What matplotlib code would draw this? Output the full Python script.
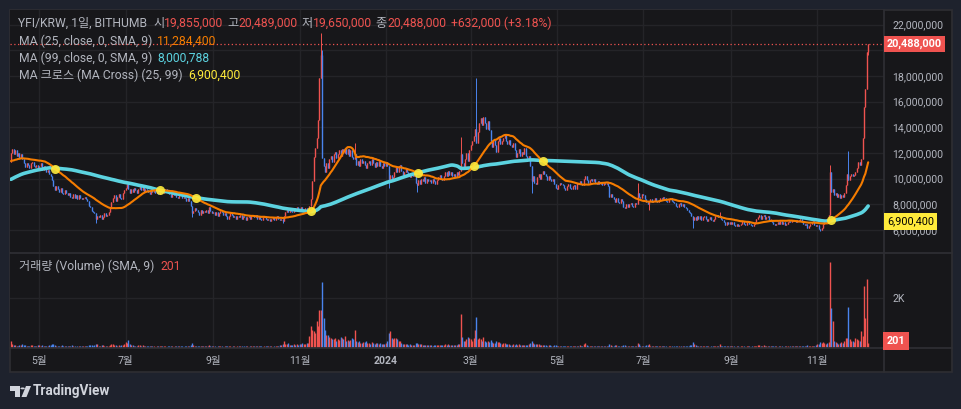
import numpy as np
import pandas as pd
import matplotlib
matplotlib.use('Agg')
import matplotlib.pyplot as plt
from matplotlib import transforms
from matplotlib.patches import Rectangle, Polygon, Circle
from matplotlib.lines import Line2D

plt.rcParams['font.family'] = ['Roboto', 'Noto Sans CJK KR', 'DejaVu Sans']

# daily closes before the visible window (for the moving averages), million KRW
pre_close = [
    # 2023-01-03 .. 01-31
    6.4, 6.5, 6.4, 6.6, 6.7, 6.8, 7.1, 7.3, 7.4, 7.8, 8.1, 8.4, 8.2, 8.4, 8.3,
    8.1, 8.3, 8.5, 8.7, 8.6, 8.8, 8.7, 8.9, 8.8, 9.0, 9.1, 9.0, 9.2, 9.1,
    # Feb
    10.4, 10.6, 10.5, 10.4, 10.3, 10.1, 10.3, 10.0, 9.8, 9.9, 10.0, 10.1, 9.9, 10.3,
    10.8, 11.0, 10.9, 11.1, 11.0, 11.2, 10.9, 10.7, 10.8, 10.5, 10.4, 10.6, 10.5, 10.3,
    # Mar
    10.5, 10.3, 9.9, 10.0, 10.1, 9.9, 9.7, 9.5, 9.3, 9.5, 10.0, 10.6, 10.7, 11.0, 10.8,
    11.1, 11.4, 11.3, 11.5, 11.1, 11.3, 11.0, 11.2, 11.1, 11.3, 11.4, 11.1, 11.3, 11.6,
    11.5, 11.7,
    # Apr 1-10
    11.6, 11.4, 11.2, 11.6, 11.4, 11.3, 11.2, 11.4, 11.5, 11.3,
]

start_date = '2023-04-11'

# daily closes, million KRW
close = [
    # 2023-04-11 .. 04-30
    12.0, 12.3, 11.9, 12.2, 11.8, 12.0, 11.6, 11.9, 11.5, 11.2,
    10.9, 11.2, 11.1, 10.8, 11.2, 11.3, 11.0, 10.9, 11.1, 10.8,
    # May
    11.0, 11.2, 10.7, 11.0, 10.8, 10.5, 10.7, 10.4, 10.2, 9.9, 9.4, 9.1, 9.4, 9.2, 9.0,
    9.3, 8.9, 8.8, 9.1, 8.9, 8.7, 8.9, 8.6, 8.5, 8.8, 8.5, 8.7, 8.4, 8.7, 8.5, 8.4,
    # Jun
    8.5, 8.6, 8.4, 8.3, 7.9, 7.8, 7.5, 7.4, 7.3, 6.9, 7.1, 7.0, 7.2, 6.9, 7.0,
    7.3, 7.1, 7.2, 7.4, 7.7, 8.2, 8.5, 8.7, 8.3, 8.6, 8.8, 8.5, 8.4, 8.9, 9.1,
    # Jul
    9.3, 9.6, 9.2, 8.9, 9.2, 9.0, 9.3, 9.1, 8.9, 9.2, 9.4, 9.1, 9.5, 9.0, 9.2,
    9.1, 9.0, 8.8, 9.1, 9.0, 9.2, 8.9, 9.0, 8.8, 9.0, 9.1, 8.9, 9.1, 9.2, 9.0, 8.9,
    # Aug
    8.8, 8.6, 8.9, 8.7, 8.8, 8.6, 8.5, 8.8, 8.7, 8.5, 8.6, 8.5, 8.3, 8.5, 8.3,
    7.9, 7.3, 7.5, 7.7, 7.6, 7.4, 7.2, 7.6, 7.3, 7.5, 7.4, 7.6, 7.3, 7.8, 7.5, 7.3,
    # Sep
    7.4, 7.2, 7.4, 7.1, 7.3, 7.5, 7.4, 7.2, 7.3, 7.1, 6.9, 7.1, 7.3, 7.2, 7.0,
    7.1, 6.9, 7.1, 7.0, 7.2, 6.9, 7.1, 7.0, 6.8, 7.0, 7.1, 6.9, 7.1, 7.2, 7.0,
    # Oct
    7.2, 6.9, 7.1, 6.9, 6.8, 7.0, 7.1, 6.9, 6.8, 6.9, 6.7, 6.9, 7.0, 6.8, 7.0,
    7.1, 6.9, 6.8, 6.9, 6.7, 7.1, 7.4, 7.6, 7.4, 7.7, 7.5, 7.4, 7.7, 7.5, 7.8, 7.6,
    # Nov
    7.5, 7.8, 7.5, 7.6, 7.7, 7.4, 7.6, 7.9, 8.4, 9.8, 11.7, 12.4, 13.2, 14.6, 17.8,
    19.6, 11.6, 11.0, 10.5, 11.2, 10.8, 11.5, 11.8, 11.3, 11.9, 12.1, 11.6, 11.9, 12.2, 11.8,
    # Dec
    12.3, 12.0, 12.4, 11.9, 12.3, 11.8, 12.2, 11.7, 11.5, 11.9, 11.1, 11.4, 11.0, 11.5, 11.2,
    11.4, 11.1, 10.8, 11.2, 11.4, 11.1, 11.5, 11.2, 10.9, 11.3, 11.0, 11.4, 11.0, 10.8, 11.2, 11.0,
    # 2024 Jan
    11.3, 11.0, 9.9, 10.3, 9.8, 10.1, 10.5, 10.9, 10.5, 11.0, 11.1, 10.6, 10.3, 10.5, 10.8,
    10.5, 10.3, 10.1, 10.4, 10.2, 10.3, 9.7, 9.5, 9.9, 9.6, 10.0, 9.8, 10.1, 9.7, 10.0, 9.8,
    # Feb
    9.9, 9.7, 10.0, 9.8, 9.6, 9.9, 10.1, 10.3, 10.0, 9.9, 10.2, 10.5, 10.2, 10.6, 10.3,
    10.5, 10.2, 10.4, 10.1, 10.5, 10.3, 10.6, 11.9, 11.2, 10.9, 11.5, 12.0, 11.4, 12.2,
    # Mar
    12.6, 12.9, 13.3, 13.9, 12.8, 13.6, 14.3, 14.7, 14.2, 14.8, 14.3, 13.9, 14.5, 13.8, 12.9,
    12.5, 13.0, 12.6, 12.1, 12.9, 13.2, 12.7, 12.9, 13.2, 13.4, 12.9, 12.7, 13.0, 12.6, 12.5, 12.8,
    # Apr
    12.2, 11.7, 12.0, 12.3, 11.8, 12.1, 11.9, 12.4, 11.8, 11.6, 11.8, 11.0, 9.8, 10.2, 9.7,
    9.6, 10.1, 10.4, 10.0, 10.4, 10.6, 10.4, 10.2, 9.9, 10.2, 10.0, 9.8, 10.0, 9.6, 9.3,
    # May
    9.2, 9.5, 9.7, 9.6, 9.5, 9.3, 9.1, 9.4, 9.6, 9.3, 9.2, 9.4, 9.5, 9.2, 9.7,
    9.6, 9.8, 9.6, 9.5, 10.0, 10.2, 9.9, 9.7, 9.9, 10.0, 9.8, 10.0, 9.7, 9.6, 9.8, 9.6,
    # Jun
    9.7, 9.5, 9.7, 9.6, 9.7, 9.4, 8.6, 8.8, 8.6, 8.4, 8.2, 8.5, 8.2, 8.1, 8.4,
    8.3, 7.8, 7.7, 8.0, 7.8, 8.0, 8.1, 7.9, 7.8, 8.1, 8.0, 8.9, 8.6, 8.5, 8.8,
    # Jul
    8.7, 8.4, 8.2, 8.0, 8.3, 8.4, 8.2, 8.3, 8.5, 8.3, 8.2, 8.3, 8.5, 8.4, 8.6,
    8.5, 8.3, 8.2, 8.4, 8.5, 8.3, 8.2, 8.1, 7.9, 7.8, 8.0, 8.1, 7.9, 8.0, 7.8, 7.7,
    # Aug
    7.6, 7.4, 7.3, 7.1, 6.8, 7.0, 6.8, 7.1, 6.9, 7.1, 6.8, 7.0, 7.1, 6.9, 6.7,
    6.9, 7.0, 6.8, 6.7, 6.9, 7.1, 7.2, 7.0, 7.1, 6.9, 6.8, 6.6, 6.4, 6.6, 6.5, 6.6,
    # Sep
    6.5, 6.6, 6.4, 6.3, 6.5, 6.3, 6.4, 6.5, 6.7, 6.5, 6.4, 6.6, 6.7, 6.5, 6.4,
    6.3, 6.5, 6.6, 6.9, 7.0, 7.2, 6.9, 7.1, 7.2, 6.9, 7.0, 7.1, 6.8, 6.8, 6.6,
    # Oct
    6.5, 6.4, 6.5, 6.6, 6.5, 6.7, 6.5, 6.6, 6.4, 6.5, 6.6, 6.7, 6.6, 6.8, 6.7,
    6.8, 6.6, 6.8, 6.7, 6.9, 6.6, 6.5, 6.4, 6.5, 6.2, 6.3, 6.5, 6.6, 6.7, 6.4, 6.3,
    # Nov
    6.4, 6.1, 6.0, 6.2, 6.5, 6.7, 6.9, 6.8, 7.2, 10.5, 9.0, 9.2, 8.7, 8.9, 8.6,
    8.8, 8.5, 8.7, 8.6, 8.9, 9.5, 10.4, 9.9, 10.2, 10.4, 10.2, 10.3, 10.5, 10.8, 11.3,
    # Dec 1-7
    11.1, 11.5, 13.2, 15.6, 17.0, 19.856, 20.488,
]

# long wicks visible on the chart, million KRW
wick_high = {
    '2023-07-03': 9.7, '2023-11-16': 21.3, '2023-11-17': 20.0, '2023-12-10': 12.8,
    '2024-02-23': 13.25, '2024-03-05': 17.8, '2024-06-27': 9.65, '2024-08-24': 7.4,
    '2024-11-10': 11.1, '2024-11-23': 12.15, '2024-12-07': 20.489,
}
wick_low = {
    '2023-06-10': 6.55, '2023-08-17': 7.0, '2023-10-20': 6.55, '2024-01-03': 9.3,
    '2024-01-23': 8.95, '2024-04-13': 8.9, '2024-07-05': 7.55, '2024-08-05': 6.2,
    '2024-11-03': 5.95, '2024-12-07': 19.65,
}

# daily volume (YFI)
volume = [
    # 2023 Apr 11-30
    270, 150, 120, 140, 90, 80, 130, 110, 150, 120, 140, 90, 80, 100, 110, 130, 90, 80, 100, 120,
    # May
    110, 90, 120, 100, 80, 70, 90, 130, 110, 150, 180, 120, 90, 80, 100, 90, 110, 80, 70, 90,
    80, 100, 90, 110, 80, 70, 60, 80, 90, 100, 80,
    # Jun
    90, 80, 70, 100, 130, 110, 120, 100, 110, 180, 150, 100, 90, 110, 120, 90, 80, 70, 100, 120,
    180, 150, 130, 110, 100, 120, 90, 110, 130, 150,
    # Jul
    250, 200, 330, 150, 120, 130, 100, 90, 80, 110, 120, 100, 130, 90, 80, 70, 90, 80, 100, 90,
    70, 60, 80, 90, 70, 80, 90, 100, 70, 60, 80,
    # Aug
    80, 90, 70, 60, 70, 80, 90, 70, 80, 90, 60, 70, 80, 70, 90, 120, 200, 130, 100, 90,
    80, 90, 100, 80, 70, 80, 90, 70, 110, 90, 80,
    # Sep
    70, 80, 60, 70, 80, 90, 70, 60, 80, 70, 90, 80, 70, 60, 70, 80, 60, 70, 80, 90,
    70, 60, 70, 80, 70, 60, 70, 80, 90, 70,
    # Oct
    80, 70, 90, 80, 70, 60, 70, 80, 90, 70, 80, 70, 60, 70, 80, 90, 100, 110, 120, 150,
    300, 180, 150, 200, 140, 120, 110, 150, 130, 160, 140,
    # Nov
    180, 160, 200, 150, 170, 190, 210, 490, 890, 730, 670, 600, 1070, 900, 1510, 1530, 2630, 1200, 730, 530,
    530, 450, 400, 380, 350, 420, 300, 380, 330, 450,
    # Dec
    400, 350, 480, 300, 330, 280, 320, 400, 350, 730, 300, 250, 280, 220, 200, 260, 240, 300, 220, 200,
    180, 240, 200, 170, 190, 220, 180, 200, 170, 150, 180,
    # 2024 Jan
    200, 280, 600, 670, 400, 350, 420, 400, 380, 300, 280, 200, 180, 150, 170, 160, 140, 150, 130, 120,
    140, 200, 220, 180, 160, 150, 140, 130, 120, 140, 130,
    # Feb
    120, 110, 100, 120, 130, 110, 120, 140, 130, 110, 120, 150, 140, 160, 130, 120, 110, 130, 120, 140,
    150, 180, 1380, 430, 300, 270, 350, 430, 400,
    # Mar
    350, 300, 400, 730, 1230, 380, 420, 350, 300, 430, 280, 250, 300, 260, 320, 240, 200, 220, 280, 250,
    230, 200, 180, 190, 210, 160, 150, 180, 140, 130, 150,
    # Apr
    140, 150, 130, 160, 120, 110, 130, 140, 120, 130, 150, 200, 300, 220, 180, 170, 160, 150, 140, 130,
    120, 110, 120, 100, 110, 120, 100, 90, 110, 120,
    # May
    100, 90, 80, 100, 90, 80, 70, 80, 90, 100, 80, 70, 80, 90, 100, 90, 110, 80, 90, 150,
    200, 120, 100, 90, 80, 90, 100, 80, 70, 80, 90,
    # Jun
    80, 70, 80, 90, 80, 100, 150, 110, 90, 100, 130, 110, 100, 90, 80, 90, 120, 130, 100, 90,
    80, 70, 80, 90, 70, 80, 200, 150, 100, 90,
    # Jul
    100, 90, 120, 110, 180, 100, 90, 80, 70, 80, 90, 80, 70, 80, 90, 80, 70, 60, 70, 80,
    70, 60, 70, 80, 90, 70, 60, 70, 80, 70, 80,
    # Aug
    90, 100, 110, 120, 230, 150, 110, 100, 90, 80, 70, 80, 90, 70, 80, 70, 60, 70, 80, 70,
    90, 100, 80, 150, 90, 80, 90, 100, 80, 70, 80,
    # Sep
    70, 80, 70, 60, 70, 80, 60, 70, 80, 70, 60, 70, 80, 70, 60, 70, 80, 70, 100, 110,
    120, 90, 100, 110, 90, 80, 90, 80, 70, 80,
    # Oct
    70, 80, 70, 60, 70, 80, 70, 60, 70, 80, 70, 60, 70, 80, 90, 80, 70, 80, 70, 90,
    80, 70, 80, 90, 120, 100, 80, 90, 100, 90, 110,
    # Nov
    150, 180, 250, 200, 250, 220, 180, 200, 260, 3450, 1600, 1100, 300, 250, 200, 180, 220, 250, 200, 300,
    400, 420, 1650, 350, 280, 300, 250, 400, 350, 330,
    # Dec 1-7
    300, 700, 500, 2500, 1200, 2750, 201,
]

price_ticks = [6, 8, 10, 12, 14, 16, 18, 20, 22]
header_parts = [('YFI/KRW, 1일, BITHUMB', 'gray', 6), ('시', 'gray', 0), ('19,855,000', 'red', 4),
                ('고', 'gray', 0), ('20,489,000', 'red', 4), ('저', 'gray', 0), ('19,650,000', 'red', 4),
                ('종', 'gray', 0), ('20,488,000', 'red', 5), ('+632,000 (+3.18%)', 'red', 0)]

# ---------------------------------------------------------------- styling
OUTER = '#1e222d'
PANE = '#17171a'
GRID = '#242428'
SEP = '#2e2e33'
TXT = '#b2b5be'
UP = '#ef5350'
DOWN = '#4a84ee'
C_MA25 = '#f57c00'
C_MA99 = '#5cd3e0'
C_CROSS = '#ffeb3b'
colors = {'gray': TXT, 'red': UP}

W, H = 962, 409
def fx(px):
    return px / W
def fy(py):
    return 1 - py / H

close = np.array(close)
n = len(close)
dates = pd.date_range(start_date, periods=n, freq='D')
x = np.arange(n)
opn = np.concatenate([[pre_close[-1]], close[:-1]])
high = np.maximum(opn, close)
low = np.minimum(opn, close)
for d, v in wick_high.items():
    i = dates.get_loc(pd.Timestamp(d))
    high[i] = max(high[i], v)
for d, v in wick_low.items():
    i = dates.get_loc(pd.Timestamp(d))
    low[i] = min(low[i], v)
opn[-1] = 19.855
up = close >= opn
cols = np.where(up, UP, DOWN)

full = pd.Series(np.concatenate([pre_close, close]))
ma25 = full.rolling(25).mean().values[len(pre_close):]
ma99 = full.rolling(99).mean().values[len(pre_close):]
sgn = np.sign(ma25 - ma99)
cross_idx = np.where(sgn[1:] != sgn[:-1])[0] + 1

fig = plt.figure(figsize=(W / 100, H / 100), dpi=100, facecolor=OUTER)
fig.add_artist(Rectangle((fx(10), fy(372)), (952 - 10) / W, (372 - 10) / H,
                         transform=fig.transFigure, fc=PANE, ec=SEP, lw=1.2, zorder=-5))

ax = fig.add_axes([fx(10), fy(252), (884 - 10) / W, (252 - 10) / H], facecolor=PANE)
axv = fig.add_axes([fx(10), fy(348), (884 - 10) / W, (348 - 253) / H], facecolor=PANE)

# pixel scale of the time axis: first candle at x=11 px, 1.4145 px per day
xlim = ((10 - 11) / 1.4145, (884 - 11) / 1.4145)
for a in (ax, axv):
    a.set_xlim(*xlim)
    for s in a.spines.values():
        s.set_visible(False)

ax.set_ylim(22 - (252 - 24.5) / 12.85, 22 + (24.5 - 10) / 12.85)
axv.set_ylim(0, 3800)

# month ticks every two months
tick_idx, tick_lab = [], []
for i, d in enumerate(dates):
    if d.day == 1 and d.month % 2 == 1:
        tick_idx.append(i)
        tick_lab.append(str(d.year) if d.month == 1 else f'{d.month}월')

for a in (ax, axv):
    a.set_xticks(tick_idx)
    a.grid(True, color=GRID, lw=1)
    a.set_axisbelow(True)
    a.tick_params(axis='both', length=0, colors=TXT)

ax.set_xticklabels([])
axv.set_xticklabels(tick_lab)
axv.tick_params(axis='x', pad=6, labelsize=7.6)
for t in axv.get_xticklabels():
    if t.get_text().isdigit():
        t.set_fontweight('bold')

# the 20,000,000 label sits under the last-price tag, as in the original
ax.set_yticks(price_ticks)
ax.yaxis.tick_right()
ax.set_yticklabels(['' if v == 20 else f'{int(v * 1e6):,}' for v in price_ticks])
ax.tick_params(axis='y', pad=6, labelsize=7.6, labelcolor=TXT)

axv.set_yticks([2000])
axv.yaxis.tick_right()
axv.set_yticklabels(['2K'])
axv.tick_params(axis='y', pad=6, labelsize=7.6, labelcolor=TXT)

# candles
ax.vlines(x, low, high, colors=cols, lw=0.7, zorder=2)
body_lo = np.minimum(opn, close)
body_hi = np.maximum(np.maximum(opn, close), body_lo + 0.06)
ax.vlines(x, body_lo, body_hi, colors=cols, lw=1.0, zorder=2)

# moving averages and crosses
ax.plot(x, ma99, color=C_MA99, lw=2.6, solid_capstyle='round', zorder=3)
ax.plot(x, ma25, color=C_MA25, lw=1.5, solid_capstyle='round', zorder=4)
ax.plot(x[cross_idx], ma25[cross_idx], 'o', color=C_CROSS, ms=6.5, mec='none', alpha=0.9, zorder=5)

# last price line
ax.axhline(close[-1], color=UP, ls=(0, (1, 2)), lw=0.9, zorder=4)

# volume
axv.vlines(x, 0, volume, colors=cols, lw=1.0)

# pane separators
for y0 in (252.5, 348):
    fig.add_artist(Line2D([fx(10), fx(952)], [fy(y0), fy(y0)], color=SEP, lw=1.3))
fig.add_artist(Line2D([fx(884), fx(884)], [fy(10), fy(372)], color=SEP, lw=1.3))

# right-axis value labels
blend = transforms.blended_transform_factory(fig.transFigure, ax.transData)
fig.text(fx(887), close[-1], f'{int(round(close[-1] * 1e6)):,}', transform=blend,
         color='white', fontsize=7.8, fontweight='bold', va='center', ha='left',
         bbox=dict(boxstyle='square,pad=0.3', fc=UP, ec='none'))
fig.text(fx(887), fy(221.5), '6,900,400', color='black', fontsize=7.8,
         va='center', ha='left', bbox=dict(boxstyle='square,pad=0.3', fc=C_CROSS, ec='none'))
fig.text(fx(887), fy(341), f'{volume[-1]}', color='white', fontsize=7.8, fontweight='bold',
         va='center', ha='left', bbox=dict(boxstyle='square,pad=0.35', fc=UP, ec='none'))

# legends
renderer = fig.canvas.get_renderer()
def legend_line(x0, y0, parts, size=8.75):
    for txt, col, gap in parts:
        t = fig.text(fx(x0), fy(y0), txt, color=col, fontsize=size, va='center', ha='left')
        x0 += t.get_window_extent(renderer).width + gap

legend_line(18, 23, [(p, colors[c], g) for p, c, g in header_parts])
legend_line(19, 41, [('MA (25, close, 0, SMA, 9)', TXT, 5), ('11,284,400', C_MA25, 0)])
legend_line(19, 58.5, [('MA (99, close, 0, SMA, 9)', TXT, 5), ('8,000,788', C_MA99, 0)])
legend_line(19, 75.5, [('MA 크로스 (MA Cross) (25, 99)', TXT, 6), ('6,900,400', C_CROSS, 0)])
legend_line(19, 266, [('거래량 (Volume) (SMA, 9)', TXT, 6), (f'{volume[-1]}', UP, 0)])

# TradingView logo
LOGO = '#d1d4dc'
def px_pts(pts):
    return [(fx(a), fy(b)) for a, b in pts]
fig.add_artist(Polygon(px_pts([(10, 386), (19.5, 386), (19.5, 397), (15, 397), (15, 390.5), (10, 390.5)]),
                       closed=True, transform=fig.transFigure, fc=LOGO, ec='none'))
fig.add_artist(Circle((fx(22.6), fy(388.4)), 2.2 / W, transform=fig.transFigure, fc=LOGO, ec='none'))
fig.add_artist(Polygon(px_pts([(26, 386), (31, 386), (26.5, 397), (21.5, 397)]),
                       closed=True, transform=fig.transFigure, fc=LOGO, ec='none'))
fig.text(fx(33), fy(391.5), 'TradingView', color=LOGO, fontsize=9.8, fontweight='bold',
         va='center', ha='left')

fig.savefig('out.png', dpi=100, facecolor=OUTER)
